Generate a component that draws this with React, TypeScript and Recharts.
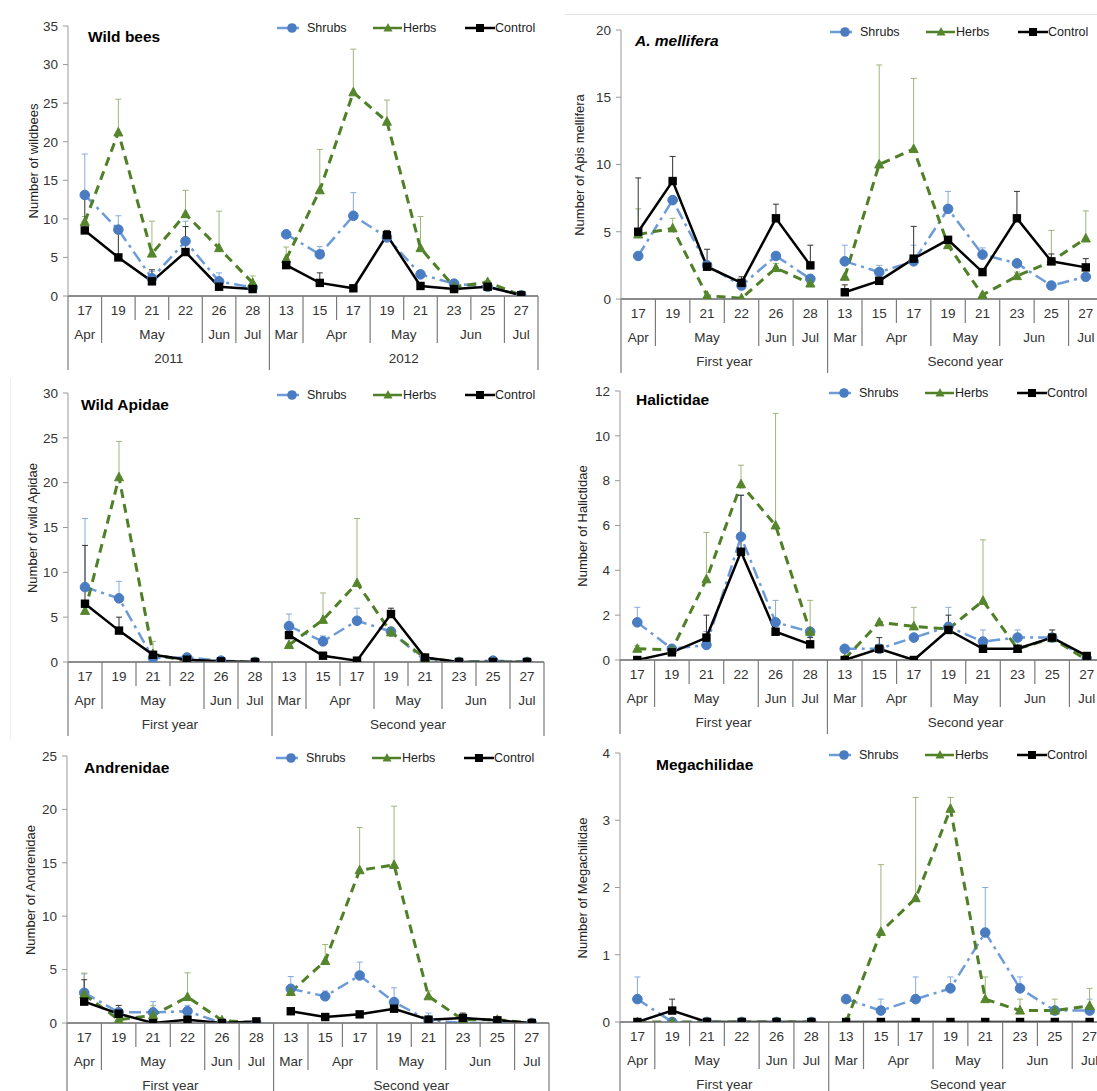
import React from 'react';
import { LineChart, Line, XAxis, YAxis, ErrorBar } from 'recharts';

// category axis: 6 sampling dates in year 1, 8 in year 2
const DAYS = ['17', '19', '21', '22', '26', '28', '13', '15', '17', '19', '21', '23', '25', '27'];
const MONTHS = ['Apr', 'May', 'Jun', 'Jul', 'Mar', 'Apr', 'May', 'Jun', 'Jul'];
const MONTH_SPANS = [1, 3, 1, 1, 1, 2, 2, 2, 1];
const YEAR_SPANS = [6, 8];
const YEARS_NUM = ['2011', '2012'];
const YEARS_ORD = ['First year', 'Second year'];

// Wild bees
const wbShrubs = [13.1, 8.6, 2.3, 7.1, 1.9, 1.1, 8.0, 5.4, 10.4, 7.6, 2.8, 1.6, 1.2, 0.1];
const wbShrubsErr = [18.4, 10.4, 3.2, 9.7, 3.0, 1.4, null, 6.4, 13.4, 8.3, null, null, null, null];
const wbHerbs = [9.6, 21.2, 5.5, 10.6, 6.2, 1.7, 4.8, 13.7, 26.4, 22.6, 6.2, 1.2, 1.8, 0.1];
const wbHerbsErr = [10.3, 25.5, 9.7, 13.7, 11.0, 2.6, 6.35, 19.0, 32.0, 25.4, 10.3, null, 2.0, null];
const wbControl = [8.5, 5.0, 1.9, 5.7, 1.2, 0.9, 4.0, 1.7, 1.0, 7.9, 1.3, 0.9, 1.2, 0.1];
const wbControlErr = [13.0, 8.3, 3.4, 9.0, null, null, null, 3.0, null, 8.5, null, null, null, null];
const wbTicks = [0, 5, 10, 15, 20, 25, 30, 35];

// A. mellifera
const amShrubs = [3.2, 7.35, 2.5, 1.0, 3.2, 1.5, 2.8, 2.0, 2.8, 6.7, 3.3, 2.65, 1.0, 1.65];
const amShrubsErr = [null, null, null, null, null, null, 4.0, 2.5, 4.0, 8.0, 3.8, null, null, null];
const amHerbs = [4.8, 5.25, 0.25, 0.05, 2.3, 1.15, 1.65, 10.0, 11.15, 4.0, 0.3, 1.7, 2.8, 4.5];
const amHerbsErr = [6.7, 6.0, null, null, 2.65, null, null, 17.4, 16.4, null, null, 2.0, 5.1, 6.55];
const amControl = [5.0, 8.77, 2.4, 1.2, 6.0, 2.5, 0.5, 1.35, 3.0, 4.4, 2.0, 6.0, 2.8, 2.35];
const amControlErr = [9.0, 10.6, 3.7, 1.65, 7.05, 4.0, 1.05, null, 5.4, null, null, 8.0, 3.35, 3.0];
const amTicks = [0, 5, 10, 15, 20];

// Wild Apidae
const waShrubs = [8.35, 7.1, 0.45, 0.5, 0.15, 0, 4.0, 2.3, 4.6, 3.4, 0.15, 0, 0.15, 0];
const waShrubsErr = [16.0, 9.0, null, null, null, null, 5.35, 2.9, 6.0, null, null, null, null, null];
const waHerbs = [5.7, 20.6, 0.9, 0.07, 0, 0, 1.9, 4.7, 8.8, 3.3, 0.45, 0, 0, 0];
const waHerbsErr = [null, 24.6, 2.3, null, null, null, null, 7.7, 16.0, null, null, null, null, null];
const waControl = [6.5, 3.5, 0.8, 0.26, 0.07, 0, 3.0, 0.7, 0.15, 5.35, 0.5, 0, 0, 0];
const waControlErr = [13.0, 5.0, null, null, null, null, null, null, null, 6.0, null, null, null, null];
const waTicks = [0, 5, 10, 15, 20, 25, 30];

// Halictidae
const haShrubs = [1.68, 0.5, 0.67, 5.5, 1.68, 1.26, 0.5, 0.5, 1.0, 1.48, 0.82, 1.0, 1.0, 0.07];
const haShrubsErr = [2.35, null, 1.27, 7.35, 2.66, null, null, null, null, 2.35, 1.34, 1.34, null, null];
const haHerbs = [0.5, 0.45, 3.6, 7.84, 6.0, 1.26, 0.05, 1.68, 1.5, 1.38, 2.64, 0.5, 0.97, 0];
const haHerbsErr = [0.64, null, 5.69, 8.69, 11.0, 2.66, null, null, 2.35, null, 5.36, null, null, null];
const haControl = [0, 0.34, 1.0, 4.83, 1.26, 0.7, 0, 0.5, 0, 1.34, 0.5, 0.5, 1.0, 0.18];
const haControlErr = [null, null, 2.0, 7.35, null, 1.0, null, 1.0, null, 2.0, null, null, 1.34, null];
const haTicks = [0, 2, 4, 6, 8, 10, 12];

// Andrenidae
const anShrubs = [2.83, 1.0, 1.0, 1.1, 0, 0, 3.2, 2.5, 4.45, 1.96, 0.25, 0, 0, 0];
const anShrubsErr = [4.6, null, 2.0, 1.65, null, null, 4.35, 3.0, 5.7, 3.3, 0.93, null, null, null];
const anHerbs = [2.68, 0.31, 0.72, 2.43, 0.25, 0, 2.9, 5.8, 14.3, 14.8, 2.5, 0.3, 0.3, 0];
const anHerbsErr = [4.67, null, 1.65, 4.7, null, null, null, 7.35, 18.3, 20.3, 3.0, null, null, null];
const anControl = [2.0, 0.87, 0, 0.31, 0, 0.15, 1.1, 0.56, 0.81, 1.34, 0.31, 0.47, 0.25, 0];
const anControlErr = [4.05, 1.65, null, null, null, null, null, 0.87, null, null, null, 0.93, null, null];
const anTicks = [0, 5, 10, 15, 20, 25];

// Megachilidae
const meShrubs = [0.34, 0, 0, 0, 0, 0, 0.34, 0.17, 0.34, 0.5, 1.33, 0.5, 0.17, 0.17];
const meShrubsErr = [0.67, null, null, null, null, null, null, 0.34, 0.67, 0.67, 2.0, 0.67, null, 0.34];
const meHerbs = [0, 0, 0, 0, 0, 0, 0, 1.34, 1.84, 3.17, 0.34, 0.17, 0.17, 0.24];
const meHerbsErr = [null, null, null, null, null, null, null, 2.34, 3.34, 3.34, 0.67, 0.34, 0.34, 0.5];
const meControl = [0, 0.17, 0, 0, 0, 0, 0, 0, 0, 0, 0, 0, 0, 0];
const meControlErr = [null, 0.34, null, null, null, null, null, null, null, null, null, null, null, null];
const meTicks = [0, 1, 2, 3, 4];

const FONT = "'Liberation Sans', Arial, Helvetica, sans-serif";
const BLUE = '#4a7cc2';
const BLUE_LINE = '#6d9bd8';
const BLUE_ERR = '#86abdf';
const GREEN = '#55862c';
const GREEN_LINE = '#4f7f27';
const GREEN_ERR = '#9db67c';
const AXIS = '#7a7a7a';

const PANELS = [
  {
    title: 'Wild bees', italic: false, yTitle: 'Number of wildbees', ticks: wbTicks, years: YEARS_NUM,
    s: wbShrubs, se: wbShrubsErr, h: wbHerbs, he: wbHerbsErr, c: wbControl, ce: wbControlErr,
    colX: 0, L: 68, R: 538, T: 26, B: 296, titleX: 88, titleY: 38, yTitleX: 33,
  },
  {
    title: 'A. mellifera', italic: true, yTitle: 'Number of Apis mellifera', ticks: amTicks, years: YEARS_ORD,
    s: amShrubs, se: amShrubsErr, h: amHerbs, he: amHerbsErr, c: amControl, ce: amControlErr,
    colX: 548, L: 621, R: 1103, T: 30, B: 299, titleX: 635, titleY: 42, yTitleX: 579,
  },
  {
    title: 'Wild Apidae', italic: false, yTitle: 'Number of wild Apidae', ticks: waTicks, years: YEARS_ORD,
    s: waShrubs, se: waShrubsErr, h: waHerbs, he: waHerbsErr, c: waControl, ce: waControlErr,
    colX: 0, L: 68, R: 544, T: 393, B: 662, titleX: 81, titleY: 406, yTitleX: 32,
  },
  {
    title: 'Halictidae', italic: false, yTitle: 'Number of Halictidae', ticks: haTicks, years: YEARS_ORD,
    s: haShrubs, se: haShrubsErr, h: haHerbs, he: haHerbsErr, c: haControl, ce: haControlErr,
    colX: 548, L: 620, R: 1104, T: 391, B: 660, titleX: 636, titleY: 401, yTitleX: 582,
  },
  {
    title: 'Andrenidae', italic: false, yTitle: 'Number of Andrenidae', ticks: anTicks, years: YEARS_ORD,
    s: anShrubs, se: anShrubsErr, h: anHerbs, he: anHerbsErr, c: anControl, ce: anControlErr,
    colX: 0, L: 67, R: 549, T: 756, B: 1023, titleX: 84, titleY: 769, yTitleX: 30,
  },
  {
    title: 'Megachilidae', italic: false, yTitle: 'Number of Megachilidae', ticks: meTicks, years: YEARS_ORD,
    s: meShrubs, se: meShrubsErr, h: meHerbs, he: meHerbsErr, c: meControl, ce: meControlErr,
    colX: 548, L: 620, R: 1107, T: 753, B: 1022, titleX: 656, titleY: 766, yTitleX: 582,
  },
];

// upper-only error bar as [below, above] deltas
function errDelta(v, top) {
  if (v == null || top == null || top <= v) return null;
  return [0, top - v];
}

function buildRows(p) {
  return DAYS.map((_, i) => {
    const y1 = i < YEAR_SPANS[0];
    return {
      i: String(i),
      s1: y1 ? p.s[i] : null, s2: y1 ? null : p.s[i],
      h1: y1 ? p.h[i] : null, h2: y1 ? null : p.h[i],
      c1: y1 ? p.c[i] : null, c2: y1 ? null : p.c[i],
      se1: y1 ? errDelta(p.s[i], p.se[i]) : null, se2: y1 ? null : errDelta(p.s[i], p.se[i]),
      he1: y1 ? errDelta(p.h[i], p.he[i]) : null, he2: y1 ? null : errDelta(p.h[i], p.he[i]),
      ce1: y1 ? errDelta(p.c[i], p.ce[i]) : null, ce2: y1 ? null : errDelta(p.c[i], p.ce[i]),
    };
  });
}

const monthStarts = MONTH_SPANS.reduce((acc, n, k) => {
  acc.push(k === 0 ? 0 : acc[k - 1] + MONTH_SPANS[k - 1]);
  return acc;
}, []);

function makeTick(bw, years) {
  return (props) => {
    const { x, y, payload } = props;
    const i = Number(payload.value);
    const xl = x - bw / 2;
    const k = monthStarts.indexOf(i);
    const yearStart = i === 0 || i === YEAR_SPANS[0];
    const sepLen = yearStart ? 74 : k >= 0 ? 47 : 24;
    return (
      <g>
        <line x1={xl} y1={y} x2={xl} y2={y + sepLen} stroke={AXIS} strokeWidth={1.2} />
        {i === DAYS.length - 1 && (
          <line x1={x + bw / 2} y1={y} x2={x + bw / 2} y2={y + 74} stroke={AXIS} strokeWidth={1.2} />
        )}
        <text x={x} y={y + 14} textAnchor="middle" dominantBaseline="central" fontSize={13.5} fill="#333" fontFamily={FONT}>
          {DAYS[i]}
        </text>
        {k >= 0 && (
          <text x={xl + (MONTH_SPANS[k] * bw) / 2} y={y + 38} textAnchor="middle" dominantBaseline="central" fontSize={13.5} fill="#333" fontFamily={FONT}>
            {MONTHS[k]}
          </text>
        )}
        {yearStart && (
          <text x={xl + ((i === 0 ? YEAR_SPANS[0] : YEAR_SPANS[1]) * bw) / 2} y={y + 62} textAnchor="middle" dominantBaseline="central" fontSize={13.5} fill="#333" fontFamily={FONT}>
            {i === 0 ? years[0] : years[1]}
          </text>
        )}
      </g>
    );
  };
}

const okPoint = (cx, cy) => cx != null && cy != null && !Number.isNaN(cx) && !Number.isNaN(cy);

const circleDot = (props) => {
  const { cx, cy, index } = props;
  if (!okPoint(cx, cy) || props.value == null) return <g key={`c${index}`} />;
  return <circle key={`c${index}`} cx={cx} cy={cy} r={4.8} fill={BLUE} stroke={BLUE} strokeWidth={1} />;
};

const triangleDot = (props) => {
  const { cx, cy, index } = props;
  if (!okPoint(cx, cy) || props.value == null) return <g key={`t${index}`} />;
  return <path key={`t${index}`} d={`M${cx},${cy - 5} L${cx + 4.5},${cy + 3.5} L${cx - 4.5},${cy + 3.5} Z`} fill={GREEN} stroke={GREEN} />;
};

const squareDot = (props) => {
  const { cx, cy, index } = props;
  if (!okPoint(cx, cy) || props.value == null) return <g key={`s${index}`} />;
  return <rect key={`s${index}`} x={cx - 4.2} y={cy - 4.2} width={8.4} height={8.4} fill="#000" />;
};

function Legend({ x, y }) {
  const item = { position: 'absolute', top: y - 8, display: 'flex', alignItems: 'center', fontSize: 12.5, color: '#222', fontFamily: FONT, whiteSpace: 'nowrap' };
  return (
    <>
      <div style={{ ...item, left: x }}>
        <svg width={30} height={16}>
          <line x1={0} y1={8} x2={22} y2={8} stroke={BLUE_LINE} strokeWidth={2.5} />
          <circle cx={15} cy={8} r={4.8} fill={BLUE} />
        </svg>
        <span>Shrubs</span>
      </div>
      <div style={{ ...item, left: x + 96 }}>
        <svg width={30} height={16}>
          <line x1={0} y1={8} x2={29} y2={8} stroke={GREEN_LINE} strokeWidth={2.5} />
          <path d="M15,3 L19.5,11.5 L10.5,11.5 Z" fill={GREEN} />
        </svg>
        <span>Herbs</span>
      </div>
      <div style={{ ...item, left: x + 188 }}>
        <svg width={30} height={16}>
          <line x1={0} y1={8} x2={30} y2={8} stroke="#000" strokeWidth={2.5} />
          <rect x={11} y={4} width={8} height={8} fill="#000" />
        </svg>
        <span>Control</span>
      </div>
    </>
  );
}

function Panel({ p }) {
  const mt = 12;
  const yAxisW = 50;
  const chartW = p.R - p.colX + 6;
  const chartH = p.B - p.T + mt + 80;
  const bw = (p.R - p.L) / DAYS.length;
  const rows = buildRows(p);
  const yMax = p.ticks[p.ticks.length - 1];
  const lineProps = { type: 'linear', isAnimationActive: false, activeDot: false, connectNulls: false };
  const errProps = { direction: 'y', width: 3, strokeWidth: 1, isAnimationActive: false };
  return (
    <>
      <div style={{ position: 'absolute', left: p.colX, top: p.T - mt }}>
        <LineChart width={chartW} height={chartH} data={rows} margin={{ top: mt, right: 6, bottom: 0, left: p.L - p.colX - yAxisW }}>
          <XAxis
            dataKey="i"
            type="category"
            interval={0}
            height={80}
            padding={{ left: bw / 2, right: bw / 2 }}
            tickLine={false}
            tickSize={0}
            tickMargin={0}
            axisLine={{ stroke: '#666', strokeWidth: 1.3 }}
            tick={makeTick(bw, p.years)}
          />
          <YAxis
            type="number"
            width={yAxisW}
            domain={[0, yMax]}
            ticks={p.ticks}
            interval={0}
            allowDataOverflow
            tickSize={5}
            tickMargin={5}
            tickLine={{ stroke: '#999' }}
            axisLine={{ stroke: '#999' }}
            tick={{ fill: '#333', fontSize: 13.5, fontFamily: FONT }}
          />
          <Line {...lineProps} dataKey="s1" stroke={BLUE_LINE} strokeWidth={2.5} strokeDasharray="12 5 3 5" dot={circleDot}>
            <ErrorBar {...errProps} dataKey="se1" stroke={BLUE_ERR} />
          </Line>
          <Line {...lineProps} dataKey="s2" stroke={BLUE_LINE} strokeWidth={2.5} strokeDasharray="12 5 3 5" dot={circleDot}>
            <ErrorBar {...errProps} dataKey="se2" stroke={BLUE_ERR} />
          </Line>
          <Line {...lineProps} dataKey="h1" stroke={GREEN_LINE} strokeWidth={3} strokeDasharray="9 6" dot={triangleDot}>
            <ErrorBar {...errProps} dataKey="he1" stroke={GREEN_ERR} />
          </Line>
          <Line {...lineProps} dataKey="h2" stroke={GREEN_LINE} strokeWidth={3} strokeDasharray="9 6" dot={triangleDot}>
            <ErrorBar {...errProps} dataKey="he2" stroke={GREEN_ERR} />
          </Line>
          <Line {...lineProps} dataKey="c1" stroke="#000" strokeWidth={2.5} dot={squareDot}>
            <ErrorBar {...errProps} dataKey="ce1" stroke="#333" />
          </Line>
          <Line {...lineProps} dataKey="c2" stroke="#000" strokeWidth={2.5} dot={squareDot}>
            <ErrorBar {...errProps} dataKey="ce2" stroke="#333" />
          </Line>
        </LineChart>
      </div>
      <div
        style={{
          position: 'absolute', left: p.titleX, top: p.titleY - 10, fontFamily: FONT, fontSize: 15.5,
          fontWeight: 'bold', fontStyle: p.italic ? 'italic' : 'normal', color: '#000', whiteSpace: 'nowrap',
        }}
      >
        {p.title}
      </div>
      <div
        style={{
          position: 'absolute', left: p.yTitleX, top: (p.T + p.B) / 2, transform: 'translate(-50%, -50%) rotate(-90deg)',
          fontFamily: FONT, fontSize: 13, color: '#222', whiteSpace: 'nowrap',
        }}
      >
        {p.yTitle}
      </div>
      <Legend x={p.L + 209} y={p.T + 2} />
    </>
  );
}

export default function App() {
  return (
    <div style={{ position: 'absolute', left: 0, top: 0, width: 1097, height: 1091, overflow: 'hidden', background: '#fff' }}>
      <div style={{ position: 'absolute', left: 565, top: 14, width: 532, height: 1, background: '#e4e4e4' }} />
      <div style={{ position: 'absolute', left: 10, top: 378, width: 1, height: 362, background: '#eeeeee' }} />
      {PANELS.map((p) => (
        <Panel key={p.title} p={p} />
      ))}
    </div>
  );
}
